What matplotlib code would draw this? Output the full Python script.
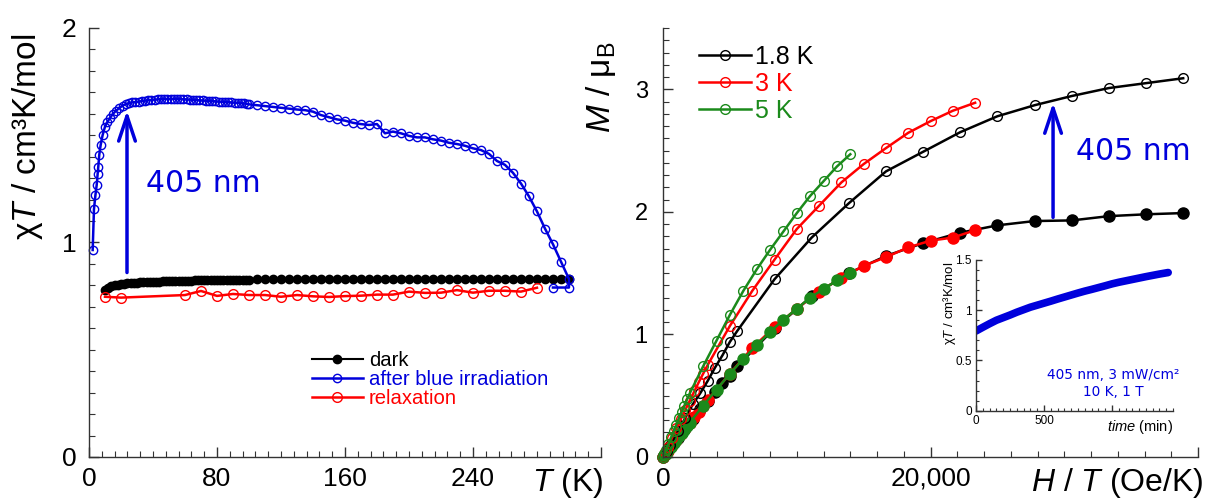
"""Photo-switching of chi*T and magnetisation curves (two panels + inset)."""

from matplotlib import pyplot
from matplotlib.ticker import MultipleLocator, FixedLocator, FixedFormatter

# ---------------------------------------------------------------- data
# Left panel: chi*T versus T
t_dark = [10, 12, 14, 16, 18, 20, 22, 24, 26, 28, 30, 32, 34, 36, 38, 40,
          42, 44, 46, 48, 50, 52, 54, 56, 58, 60, 62, 64, 66, 68, 70, 72,
          74, 76, 78, 80, 82, 84, 86, 88, 90, 92, 94, 96, 98, 100,
          105, 110, 115, 120, 125, 130, 135, 140, 145, 150, 155, 160, 165,
          170, 175, 180, 185, 190, 195, 200, 205, 210, 215, 220, 225, 230,
          235, 240, 245, 250, 255, 260, 265, 270, 275, 280, 285, 290, 295,
          300]
chit_dark = [0.780, 0.790, 0.796, 0.800, 0.803, 0.806, 0.808, 0.810, 0.811,
             0.812, 0.813, 0.814, 0.815, 0.816, 0.816, 0.817, 0.818, 0.818,
             0.819, 0.819, 0.820, 0.820, 0.821, 0.821, 0.821, 0.822, 0.822,
             0.822, 0.823, 0.823, 0.823, 0.824, 0.824, 0.824, 0.824, 0.825,
             0.825, 0.825, 0.825, 0.826, 0.826, 0.826, 0.826, 0.826, 0.827,
             0.827,
             0.828, 0.828, 0.828, 0.828, 0.828, 0.828, 0.828, 0.828, 0.828,
             0.828, 0.829, 0.829, 0.829, 0.829, 0.829, 0.829, 0.829, 0.829,
             0.829, 0.829, 0.829, 0.829, 0.829, 0.829, 0.830, 0.830, 0.830,
             0.830, 0.830, 0.830, 0.830, 0.830, 0.830, 0.830, 0.830, 0.830,
             0.830, 0.830, 0.830, 0.830]

t_blue = [2.3, 3.1, 4.0, 4.8, 5.4, 5.8, 6.4, 7.3, 8.5, 10, 11.5, 13, 15, 17,
          19, 21, 23, 25, 27, 29, 31, 33, 35, 37, 39, 41, 43, 45, 47, 49, 51,
          53, 55, 57, 59, 61, 63, 65, 67, 69, 71, 73, 75, 77, 79, 81, 83, 85,
          87, 89, 91, 93, 95, 97, 99,
          100, 105, 110, 115, 120, 125, 130, 135, 140, 145, 150, 155, 160,
          165, 170, 175, 180, 185, 190, 195, 200, 205, 210, 215, 220, 225,
          230, 235, 240, 245, 250, 255, 260, 265, 270, 275, 280, 285, 290,
          295, 300, 300, 290]
chit_blue = [0.965, 1.155, 1.220, 1.268, 1.320, 1.353, 1.408, 1.455, 1.500,
             1.540, 1.562, 1.580, 1.600, 1.615, 1.627, 1.638, 1.645, 1.650,
             1.653, 1.655, 1.657, 1.659, 1.661, 1.663, 1.665, 1.666, 1.667,
             1.668, 1.669, 1.670, 1.670, 1.670, 1.669, 1.669, 1.668, 1.667,
             1.666, 1.665, 1.664, 1.663, 1.662, 1.661, 1.660, 1.659, 1.658,
             1.657, 1.656, 1.655, 1.654, 1.653, 1.652, 1.651, 1.650, 1.648,
             1.646,
             1.644, 1.640, 1.636, 1.632, 1.628, 1.624, 1.620, 1.617, 1.610,
             1.594, 1.584, 1.574, 1.568, 1.558, 1.552, 1.548, 1.552, 1.509,
             1.517, 1.509, 1.497, 1.490, 1.490, 1.481, 1.475, 1.465, 1.459,
             1.451, 1.439, 1.431, 1.413, 1.380, 1.362, 1.325, 1.275, 1.215,
             1.145, 1.065, 0.992, 0.911, 0.830, 0.790, 0.790]

t_relax = [10, 20, 60, 70, 80, 90, 100, 110, 120, 130, 140, 150, 160, 170,
           180, 190, 200, 210, 220, 230, 240, 250, 260, 270, 280]
chit_relax = [0.747, 0.743, 0.755, 0.774, 0.751, 0.760, 0.755, 0.755, 0.747,
              0.755, 0.749, 0.746, 0.750, 0.752, 0.757, 0.757, 0.771, 0.765,
              0.766, 0.778, 0.766, 0.775, 0.775, 0.771, 0.789]

# Right panel: M versus H/T (open = after 405 nm, filled = dark)
ht_18 = [0, 278, 556, 1111, 1667, 2222, 2778, 3333, 3889, 4444, 5000, 5556,
         8333, 11111, 13889, 16667, 19444, 22222, 25000, 27778, 30556, 33333,
         36111, 38889]
m_18_irr = [0, 0.05, 0.10, 0.21, 0.32, 0.43, 0.52, 0.62, 0.73, 0.83, 0.94,
            1.03, 1.45, 1.79, 2.07, 2.33, 2.49, 2.65, 2.78, 2.87, 2.945,
            3.01, 3.05, 3.09]
m_18_dark = [0, 0.04, 0.08, 0.155, 0.235, 0.31, 0.39, 0.46, 0.53, 0.60, 0.66,
             0.74, 1.05, 1.31, 1.50, 1.64, 1.745, 1.83, 1.89, 1.925, 1.93,
             1.965, 1.98, 1.99]

ht_3 = [0, 167, 333, 667, 1000, 1333, 1667, 2000, 2333, 2667, 3000, 3333,
        5000, 6667, 8333, 10000, 11667, 13333, 15000, 16667, 18333, 20000,
        21667, 23333]
m_3_irr = [0, 0.04, 0.08, 0.155, 0.235, 0.31, 0.385, 0.46, 0.535, 0.61, 0.68,
           0.75, 1.07, 1.355, 1.61, 1.86, 2.05, 2.24, 2.39, 2.52, 2.645, 2.74,
           2.825, 2.89]
m_3_dark = [0, 0.023, 0.047, 0.094, 0.14, 0.187, 0.233, 0.28, 0.325, 0.37,
            0.42, 0.465, 0.68, 0.89, 1.06, 1.21, 1.35, 1.46, 1.56, 1.63, 1.71,
            1.765, 1.79, 1.85]

ht_5 = [0, 100, 200, 400, 600, 800, 1000, 1200, 1400, 1600, 1800, 2000, 3000,
        4000, 5000, 6000, 7000, 8000, 9000, 10000, 11000, 12000, 13000, 14000]
m_5_irr = [0, 0.027, 0.055, 0.105, 0.16, 0.21, 0.265, 0.32, 0.37, 0.42, 0.47,
           0.52, 0.74, 0.95, 1.16, 1.355, 1.53, 1.69, 1.84, 1.99, 2.13, 2.25,
           2.37, 2.47]
m_5_dark = [0, 0.014, 0.028, 0.056, 0.084, 0.112, 0.14, 0.168, 0.196, 0.224,
            0.252, 0.28, 0.42, 0.55, 0.68, 0.80, 0.91, 1.02, 1.12, 1.21, 1.30,
            1.37, 1.44, 1.505]

# Inset: chi*T versus irradiation time
time_min = [0, 50, 100, 150, 200, 250, 300, 350, 400, 450, 500, 550, 600,
            650, 700, 750, 800, 850, 900, 950, 1000, 1050, 1100, 1150, 1200,
            1250, 1300, 1350, 1414]
chit_time = [0.793, 0.830, 0.866, 0.900, 0.926, 0.952, 0.980, 1.005, 1.030,
             1.050, 1.070, 1.090, 1.111, 1.131, 1.151, 1.171, 1.190, 1.207,
             1.225, 1.243, 1.262, 1.278, 1.292, 1.306, 1.320, 1.334, 1.347,
             1.360, 1.375]

# ---------------------------------------------------------------- style
BLUE = '#0000dc'
RED = '#ff0000'
GREEN = '#1b8a1b'
AXC = '#333333'

pyplot.rcParams['font.family'] = ['Liberation Sans', 'DejaVu Sans']
pyplot.rcParams['mathtext.fontset'] = 'custom'
pyplot.rcParams['mathtext.rm'] = 'Liberation Sans'
pyplot.rcParams['mathtext.it'] = 'Liberation Sans:italic'


def style_axes(ax, size, major_len=7, minor_len=4, pad=7):
    for side in ('top', 'right'):
        ax.spines[side].set_visible(False)
    for side in ('left', 'bottom'):
        ax.spines[side].set_color(AXC)
        ax.spines[side].set_linewidth(1.0)
    ax.tick_params(which='both', direction='in', colors=AXC,
                   labelcolor='black', labelsize=size, pad=pad)
    ax.tick_params(which='major', length=major_len, width=1.0)
    ax.tick_params(which='minor', length=minor_len, width=0.8)


fig = pyplot.figure(figsize=(12.06, 4.99), dpi=100)
ax1 = fig.add_axes([0.0738, 0.0842, 0.4245, 0.8597])
ax2 = fig.add_axes([0.5498, 0.0842, 0.4436, 0.8597])

# ---------------------------------------------------------------- left panel
ax1.plot(t_dark, chit_dark, color='black', marker='o', markersize=6,
         linewidth=1.5, label='dark', clip_on=False)
ax1.plot(t_blue, chit_blue, color=BLUE, marker='o', markersize=6,
         markerfacecolor='none', markeredgewidth=1.0, linewidth=1.8,
         label='after blue irradiation', clip_on=False)
ax1.plot(t_relax, chit_relax, color=RED, marker='o', markersize=7,
         markerfacecolor='none', markeredgewidth=1.0, linewidth=1.8,
         label='relaxation', clip_on=False)

ax1.set_xlim(0, 320)
ax1.set_ylim(0, 2)
ax1.xaxis.set_major_locator(FixedLocator([0, 80, 160, 240, 320]))
ax1.xaxis.set_major_formatter(FixedFormatter(['0', '80', '160', '240', '']))
ax1.xaxis.set_minor_locator(MultipleLocator(8))
ax1.yaxis.set_major_locator(FixedLocator([0, 1, 2]))
ax1.yaxis.set_minor_locator(MultipleLocator(0.1))
style_axes(ax1, 19)
ax1.tick_params(axis='y', pad=9)

ax1.annotate('', xy=(23.75, 1.615), xytext=(23.75, 0.86),
             arrowprops=dict(arrowstyle='->,head_length=1.2,head_width=0.4',
                             color=BLUE, lw=2.5, mutation_scale=15,
                             shrinkA=0, shrinkB=0))
ax1.text(35.5, 1.277, '405 nm', color=BLUE, fontsize=21.5,
         family='DejaVu Sans', ha='left', va='center')

leg = ax1.legend(loc='center left', bbox_to_anchor=(0.4355, 0.18),
                 frameon=False, fontsize=14.6, handlelength=2.5,
                 handletextpad=0.3, labelspacing=0.0, borderpad=0,
                 borderaxespad=0)
for text, line in zip(leg.get_texts(), leg.get_lines()):
    text.set_color(line.get_color())

fig.text(0.0232, 0.7255, 'χ$T$ / cm³K/mol', rotation=90, fontsize=24,
         ha='center', va='center')
fig.text(0.5, 1 - 491 / 499, '$T$ (K)', fontsize=23, ha='right',
         va='baseline')

# ---------------------------------------------------------------- right panel
series = [(ht_18, m_18_irr, m_18_dark, 'black', '1.8 K'),
          (ht_3, m_3_irr, m_3_dark, RED, '3 K'),
          (ht_5, m_5_irr, m_5_dark, GREEN, '5 K')]
for ht, m_irr, m_dark, color, label in series:
    ax2.plot(ht, m_dark, color=color, marker='o', markersize=8,
             linewidth=1.8, clip_on=False)
for ht, m_irr, m_dark, color, label in series:
    ax2.plot(ht, m_irr, color=color, marker='o', markersize=7,
             markerfacecolor='none', markeredgewidth=1.0, linewidth=1.8,
             label=label, clip_on=False)

ax2.set_xlim(0, 40000)
ax2.set_ylim(0, 3.5)
ax2.xaxis.set_major_locator(FixedLocator([0, 20000, 40000]))
ax2.xaxis.set_major_formatter(FixedFormatter(['0', '20,000', '']))
ax2.xaxis.set_minor_locator(MultipleLocator(2000))
ax2.yaxis.set_major_locator(FixedLocator([0, 1, 2, 3]))
ax2.yaxis.set_minor_locator(MultipleLocator(0.1))
style_axes(ax2, 19)
ax2.tick_params(axis='y', labelsize=17, pad=11)

ax2.annotate('', xy=(29160, 2.89), xytext=(29160, 1.955),
             arrowprops=dict(arrowstyle='->,head_length=1.2,head_width=0.4',
                             color=BLUE, lw=2.5, mutation_scale=15,
                             shrinkA=0, shrinkB=0))
ax2.text(30850, 2.49, '405 nm', color=BLUE, fontsize=21.5,
         family='DejaVu Sans', ha='left', va='center')

leg2 = ax2.legend(loc='center left', bbox_to_anchor=(0.067, 0.869),
                  frameon=False, fontsize=18, handlelength=2.1,
                  handletextpad=0.15, labelspacing=0.12, borderpad=0,
                  borderaxespad=0)
for text, line in zip(leg2.get_texts(), leg2.get_lines()):
    text.set_color(line.get_color())

fig.text(0.4983, 0.8257, '$M$ / μ$_\\mathrm{B}$', rotation=90, fontsize=24,
         ha='center', va='center')
fig.text(1204 / 1206, 1 - 491 / 499, '$H$ / $T$ (Oe/K)', fontsize=23,
         ha='right', va='baseline')

# ---------------------------------------------------------------- inset
ax3 = fig.add_axes([0.8093, 0.177, 0.1634, 0.302])
ax3.plot(time_min, chit_time, color=BLUE, linewidth=5.5,
         solid_capstyle='round')
ax3.set_xlim(0, 1450)
ax3.set_ylim(0, 1.5)
ax3.xaxis.set_major_locator(FixedLocator([0, 500, 1000]))
ax3.xaxis.set_major_formatter(FixedFormatter(['0', '500', '']))
ax3.xaxis.set_minor_locator(MultipleLocator(50))
ax3.yaxis.set_major_locator(FixedLocator([0, 0.5, 1, 1.5]))
ax3.yaxis.set_major_formatter(FixedFormatter(['0', '0.5', '1', '1.5']))
ax3.yaxis.set_minor_locator(MultipleLocator(0.1))
style_axes(ax3, 8.5, major_len=4, minor_len=2, pad=3)
ax3.text(0.695, 0.18, '405 nm, 3 mW/cm²\n10 K, 1 T', transform=ax3.transAxes,
         color=BLUE, fontsize=9.8, family='DejaVu Sans', ha='center',
         va='center', linespacing=1.25)
ax3.text(1.0, -0.105, '$time$ (min)', transform=ax3.transAxes, fontsize=10.5,
         ha='right', va='center')
fig.text(950 / 1206, 1 - 303 / 499, 'χ$T$ / cm³K/mol', rotation=90,
         fontsize=9.5, ha='center', va='center')

fig.savefig('out.png', dpi=100)
